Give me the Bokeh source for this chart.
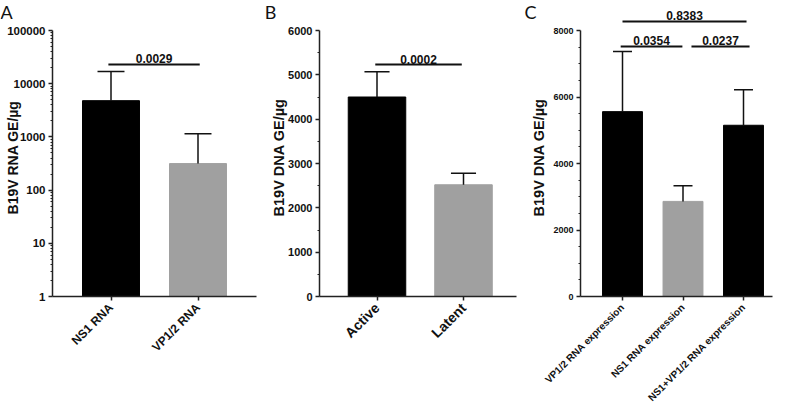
from math import pi, log10
from bokeh.plotting import figure
from bokeh.layouts import row
from bokeh.models import Range1d, FixedTicker
from bokeh.core.properties import value
from bokeh.embed import file_html
from bokeh.resources import INLINE

# ---------------- data ----------------
# Panel A (log scale)
a_categories = ["NS1 RNA", "VP1/2 RNA"]
a_means = [4800, 315]
a_err_top = [17000, 1150]
a_colors = ["#000000", "#a0a0a0"]
a_yticks = [1, 10, 100, 1000, 10000, 100000]
a_ytick_labels = ["1", "10", "100", "1000", "10000", "100000"]
a_sig_x0 = [0.97]
a_sig_x1 = [2.02]
a_sig_y = [22960]
a_sig_text = ["0.0029"]

# Panel B
b_categories = ["Active", "Latent"]
b_means = [4500, 2520]
b_err_top = [5070, 2780]
b_colors = ["#000000", "#a0a0a0"]
b_yticks = [0, 1000, 2000, 3000, 4000, 5000, 6000]
b_yminor = [500, 1500, 2500, 3500, 4500, 5500]
b_sig_x0 = [0.98]
b_sig_x1 = [1.98]
b_sig_y = [5233]
b_sig_text = ["0.0002"]

# Panel C
c_categories = ["VP1/2 RNA expression", "NS1 RNA expression", "NS1+VP1/2 RNA expression"]
c_means = [5560, 2860, 5150]
c_err_top = [7370, 3330, 6220]
c_colors = ["#000000", "#a0a0a0", "#000000"]
c_yticks = [0, 2000, 4000, 6000, 8000]
c_yminor = [500, 1000, 1500, 2500, 3000, 3500, 4500, 5000, 5500, 6500, 7000, 7500]
c_sig_x0 = [1.0, 0.97, 2.14]
c_sig_x1 = [3.05, 1.99, 3.10]
c_sig_y = [8271, 7519, 7519]
c_sig_text = ["0.8383", "0.0354", "0.0237"]

FONT = "Liberation Sans"
PAGE_TOP, PAGE_BOTTOM = 8, 412     # frame covers the whole figure
AXIS_TOP, AXIS_BOTTOM = 38, 304    # drawn y axis (page pixels)
FIG_H = PAGE_BOTTOM - PAGE_TOP


def panel(letter, ylabel, cats, means, err_top, colors, sig_x0, sig_x1, sig_y, sig_text,
          y_ticks, y_minor, y_bounds, log, fig_w, axis_left_px, px_per_unit, first_center_px,
          axis_right_px, bar_w, cap_w, ytick_size, xtick_size, ylab_px, ylab_size,
          letter_px, tick_labels=None):
    x_start = 1 - first_center_px / px_per_unit
    x_end = x_start + fig_w / px_per_unit

    def px_x(px):
        return x_start + px / px_per_unit

    y_lo, y_hi = y_bounds
    axis_len = AXIS_BOTTOM - AXIS_TOP
    if log:
        l0, l1 = log10(y_lo), log10(y_hi)

        def px_y(page_y):
            return 10 ** (l0 + (l1 - l0) * (AXIS_BOTTOM - page_y) / axis_len)
    else:
        def px_y(page_y):
            return y_lo + (y_hi - y_lo) * (AXIS_BOTTOM - page_y) / axis_len

    p = figure(frame_width=fig_w, frame_height=FIG_H,
               min_border_left=0, min_border_right=0, min_border_top=0, min_border_bottom=0,
               x_range=Range1d(x_start, x_end),
               y_range=Range1d(px_y(PAGE_BOTTOM), px_y(PAGE_TOP)),
               y_axis_type="log" if log else "linear",
               output_backend="svg", toolbar_location=None,
               background_fill_color="white", border_fill_color="white")
    p.title.visible = False
    p.outline_line_color = None
    p.grid.visible = False

    xs = list(range(1, len(cats) + 1))
    p.vbar(x=xs, top=means, bottom=y_lo, width=bar_w, fill_color=colors, line_color=colors)
    p.segment(x0=xs, y0=means, x1=xs, y1=err_top, line_color="#111111", line_width=1.5)
    p.segment(x0=[x - cap_w / 2 for x in xs], y0=err_top, x1=[x + cap_w / 2 for x in xs],
              y1=err_top, line_color="#111111", line_width=1.5)

    p.segment(x0=sig_x0, y0=sig_y, x1=sig_x1, y1=sig_y, line_color="#111111", line_width=2)
    mids = [(a + b) / 2 for a, b in zip(sig_x0, sig_x1)]
    p.text(x=mids, y=sig_y, text=sig_text, text_align="center", text_baseline="bottom",
           y_offset=-1, text_font=value(FONT), text_font_style="bold",
           text_font_size="12px", text_color="#111111")

    # y axis title and panel letter
    p.text(x=[px_x(ylab_px)], y=[px_y(165)], text=[ylabel], angle=pi / 2,
           text_align="center", text_baseline="middle", text_font=value(FONT),
           text_font_style="bold", text_font_size=ylab_size, text_color="#111111")
    p.text(x=[px_x(letter_px)], y=[px_y(19)], text=[letter],
           text_align="center", text_baseline="middle", text_font=value("Lato"),
           text_font_size="18px", text_color="#111111")

    yax = p.yaxis[0]
    yax.fixed_location = px_x(axis_left_px)
    yax.ticker = FixedTicker(ticks=y_ticks, minor_ticks=y_minor)
    yax.bounds = y_bounds
    if tick_labels is not None:
        yax.major_label_overrides = {t: l for t, l in zip(y_ticks, tick_labels)}
    yax.major_label_text_font = FONT
    yax.major_label_text_font_style = "bold"
    yax.major_label_text_font_size = ytick_size
    yax.major_label_text_color = "#111111"
    yax.major_label_standoff = 3
    yax.major_tick_out = 4
    yax.major_tick_in = 0
    yax.minor_tick_out = 2
    yax.minor_tick_in = 0
    yax.axis_line_width = 1.5
    yax.axis_line_color = "#222222"
    yax.major_tick_line_color = "#222222"
    yax.minor_tick_line_color = "#222222"
    yax.major_tick_line_width = 1.5

    xax = p.xaxis[0]
    xax.fixed_location = y_lo
    xax.bounds = (px_x(axis_left_px), px_x(axis_right_px))
    xax.ticker = FixedTicker(ticks=xs)
    xax.major_label_overrides = {x: c for x, c in zip(xs, cats)}
    xax.major_label_orientation = pi / 4
    xax.major_label_text_font = FONT
    xax.major_label_text_font_style = "bold"
    xax.major_label_text_font_size = xtick_size
    xax.major_label_text_color = "#111111"
    xax.major_tick_out = 4
    xax.major_tick_in = 0
    xax.minor_tick_out = 0
    xax.minor_tick_in = 0
    xax.axis_line_width = 1.5
    xax.axis_line_color = "#222222"
    xax.major_tick_line_color = "#222222"
    xax.major_tick_line_width = 1.5
    return p


a_minor = [k * 10 ** d for d in range(5) for k in range(2, 10)]

# figure-relative pixel positions: A starts at page x 8, B at 268, C at 528
pa = panel("A", "B19V RNA GE/µg", a_categories, a_means, a_err_top, a_colors,
           a_sig_x0, a_sig_x1, a_sig_y, a_sig_text,
           a_yticks, a_minor, (1, 100000), True,
           260, 52, 87.0, 110.5, 256, 0.655, 0.31, "11.5px", "12px", 12.5, "14px", 6,
           tick_labels=a_ytick_labels)

pb = panel("B", "B19V DNA GE/µg", b_categories, b_means, b_err_top, b_colors,
           b_sig_x0, b_sig_x1, b_sig_y, b_sig_text,
           b_yticks, b_yminor, (0, 6000), False,
           260, 59, 86.5, 116.5, 256, 0.665, 0.29, "11px", "14px", 18, "14.5px", 10)

pc = panel("C", "B19V DNA GE/µg", c_categories, c_means, c_err_top, c_colors,
           c_sig_x0, c_sig_x1, c_sig_y, c_sig_text,
           c_yticks, c_yminor, (0, 8000), False,
           257, 60, 60.5, 102, 252, 0.66, 0.314, "9px", "10px", 18, "14.5px", 10)

layout = row(pa, pb, pc)
open("out.html", "w").write(file_html(layout, INLINE))
